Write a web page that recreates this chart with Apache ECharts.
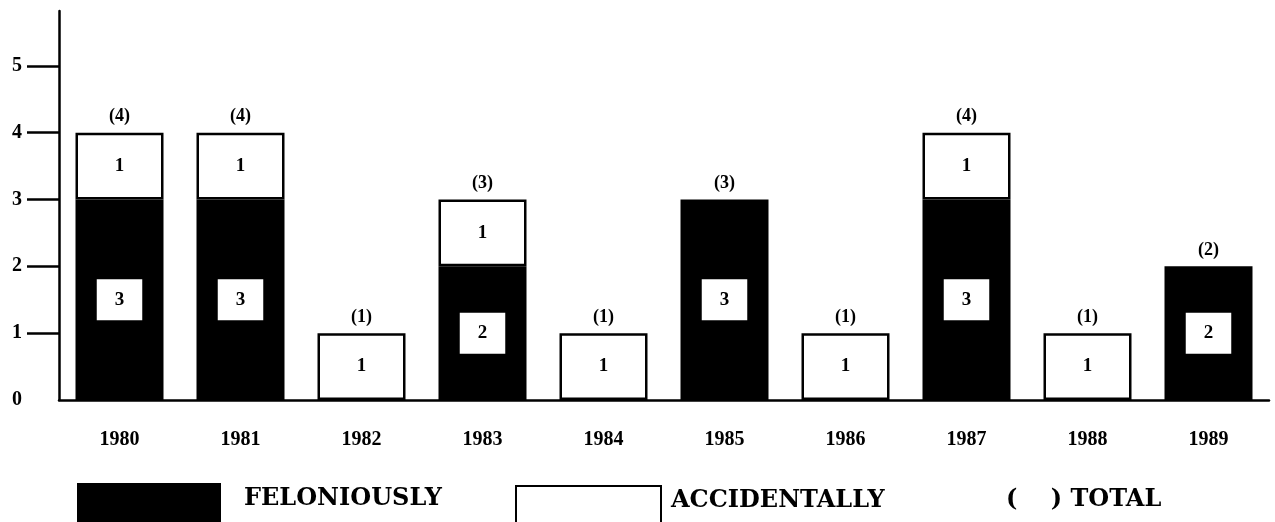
<!DOCTYPE html>
<html>
<head>
<meta charset="utf-8">
<script src="https://cdn.jsdelivr.net/npm/echarts@6/dist/echarts.min.js"></script>
<style>
  html, body { margin: 0; padding: 0; background: #fff; }
  #chart { width: 1275px; height: 522px; }
</style>
</head>
<body>
<div id="chart"></div>
<script>
const years = ['1980', '1981', '1982', '1983', '1984', '1985', '1986', '1987', '1988', '1989']
const feloniously = [3, 3, 0, 2, 0, 3, 0, 3, 0, 2]
const accidentally = [1, 1, 1, 1, 1, 0, 1, 1, 1, 0]
const totals = [4, 4, 1, 3, 1, 3, 1, 4, 1, 2]
const yTicks = [1, 2, 3, 4, 5]
const yLabels = [0, 1, 2, 3, 4, 5]

const serif = '"Liberation Serif", "Times New Roman", serif'
const legendFont = '"DejaVu Serif", serif'

let chart = echarts.init(document.getElementById('chart'))

// legend text sits a bit above the middle of the tall swatches,
// an empty second line pushes it up
let legendText = {
  fontFamily: legendFont,
  fontWeight: 'bold',
  fontSize: 24,
  lineHeight: 19,
  color: '#000'
}

let option = {
  animation: false,
  backgroundColor: '#fff',
  grid: {
    left: 59,
    right: 6,
    top: 11,
    bottom: 122
  },
  legend: [
    {
      data: [{ name: 'FELONIOUSLY', icon: 'rect' }],
      left: 77,
      top: 483,
      padding: 0,
      itemWidth: 144,
      itemHeight: 50,
      selectedMode: false,
      formatter: name => name + '\n ',
      textStyle: Object.assign({}, legendText, { padding: [0, 0, 0, 18] })
    },
    {
      data: [{ name: 'ACCIDENTALLY', icon: 'rect' }],
      left: 515,
      top: 485,
      padding: 0,
      itemWidth: 145,
      itemHeight: 50,
      selectedMode: false,
      formatter: name => name + '\n ',
      textStyle: Object.assign({}, legendText, { lineHeight: 20, padding: [0, 0, 0, 5] })
    },
    {
      data: [{ name: 'TOTAL', icon: 'rect' }],
      left: 1001,
      top: 485,
      padding: 0,
      itemWidth: 0,
      itemHeight: 50,
      selectedMode: false,
      formatter: '(    ) TOTAL\n ',
      textStyle: Object.assign({}, legendText, { lineHeight: 20 })
    }
  ],
  xAxis: {
    type: 'category',
    data: years,
    axisLine: { lineStyle: { color: '#000', width: 2.5 } },
    axisTick: { show: false },
    axisLabel: {
      margin: 30,
      color: '#000',
      fontFamily: serif,
      fontWeight: 'bold',
      fontSize: 20
    }
  },
  yAxis: {
    type: 'value',
    min: 0,
    max: 5.82,
    splitLine: { show: false },
    axisLine: { show: true, lineStyle: { color: '#000', width: 2.5 } },
    axisTick: {
      show: true,
      inside: false,
      length: 32,
      customValues: yTicks,
      lineStyle: { color: '#000', width: 2.5 }
    },
    axisLabel: {
      margin: 37,
      customValues: yLabels,
      color: '#000',
      fontFamily: serif,
      fontWeight: 'bold',
      fontSize: 20
    }
  },
  series: [
    {
      name: 'FELONIOUSLY',
      type: 'bar',
      stack: 'year',
      barWidth: 88,
      itemStyle: { color: '#000' },
      label: {
        show: true,
        position: 'inside',
        color: '#000',
        backgroundColor: '#fff',
        padding: [11, 18],
        fontFamily: serif,
        fontWeight: 'bold',
        fontSize: 19
      },
      data: feloniously.map(v => (v ? v : '-'))
    },
    {
      name: 'ACCIDENTALLY',
      type: 'bar',
      stack: 'year',
      barWidth: 88,
      itemStyle: { color: '#fff', borderColor: '#000', borderWidth: 2.5 },
      label: {
        show: true,
        position: 'inside',
        color: '#000',
        fontFamily: serif,
        fontWeight: 'bold',
        fontSize: 19
      },
      data: accidentally.map(v => (v ? v : '-'))
    },
    {
      name: 'TOTAL',
      type: 'bar',
      stack: 'year',
      barWidth: 88,
      itemStyle: { color: 'rgba(0,0,0,0)' },
      label: {
        show: true,
        position: 'top',
        distance: 7,
        color: '#000',
        fontFamily: serif,
        fontWeight: 'bold',
        fontSize: 18,
        formatter: p => '(' + totals[p.dataIndex] + ')'
      },
      data: totals.map(() => 0)
    }
  ]
}
chart.setOption(option)
</script>
</body>
</html>
